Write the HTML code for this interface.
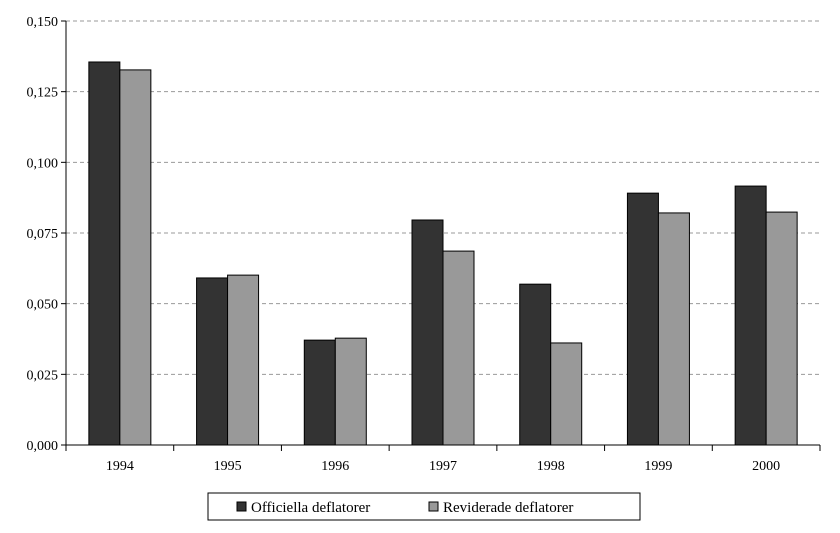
<!DOCTYPE html>
<html><head><meta charset="utf-8">
<style>
body{margin:0;background:#fff;}
svg{display:block;font-family:"Liberation Serif",serif;}
</style></head>
<body>
<svg id="chart" width="840" height="533" xmlns="http://www.w3.org/2000/svg"></svg>
<script>
const categories=["1994","1995","1996","1997","1998","1999","2000"];
const officiella=[0.1355,0.0591,0.0371,0.0796,0.0569,0.0891,0.0916];
const reviderade=[0.1327,0.0601,0.0378,0.0686,0.0361,0.0821,0.0824];
const yTicks=[0,0.025,0.05,0.075,0.1,0.125,0.15];
const yTickLabels=["0,000","0,025","0,050","0,075","0,100","0,125","0,150"];
const seriesNames=["Officiella deflatorer","Reviderade deflatorer"];

const NS="http://www.w3.org/2000/svg";
const svg=document.getElementById('chart');
const L=66,R=820,T=21,B=445,yMax=0.15;
const y=v=>B-(v/yMax)*(B-T);
const bandW=(R-L)/categories.length;
const xBand=i=>L+i*bandW;
function mk(tag,attrs,parent){const e=document.createElementNS(NS,tag);for(const k in attrs)e.setAttribute(k,attrs[k]);(parent||svg).appendChild(e);return e;}

yTicks.forEach((t,i)=>{
  if(t>0){const g=mk('line',{x1:L,x2:R,y1:y(t),y2:y(t),stroke:'#999','stroke-dasharray':'4,3','stroke-width':1});
  
  }
  const tk=mk('line',{x1:L-5,x2:L,y1:y(t),y2:y(t),stroke:'#000'});
  
  
  const lb=mk('text',{x:L-8,y:y(t)+5,'text-anchor':'end','font-size':14,fill:'#000'});
  lb.textContent=yTickLabels[i];
  
  
});
const ax=mk('line',{x1:L,x2:L,y1:T,y2:B,stroke:'#000'});


const bw=31;
categories.forEach((c,i)=>{
  const cx=xBand(i)+bandW/2;
  const b1=mk('rect',{x:cx-bw,y:y(officiella[i]),width:bw,height:B-y(officiella[i]),fill:'#333333',stroke:'#000','stroke-width':1});
  
  
  const b2=mk('rect',{x:cx,y:y(reviderade[i]),width:bw,height:B-y(reviderade[i]),fill:'#999999',stroke:'#000','stroke-width':1});
  
  
  const tk=mk('line',{x1:xBand(i+1),x2:xBand(i+1),y1:B,y2:B+6,stroke:'#000'});
  
  
  const lb=mk('text',{x:cx,y:B+25,'text-anchor':'middle','font-size':14,fill:'#000'});
  lb.textContent=c;
  
  
});
const xt0=mk('line',{x1:L,x2:L,y1:B,y2:B+6,stroke:'#000'});


const xa=mk('line',{x1:L,x2:R,y1:B,y2:B,stroke:'#000'});



const lg=mk('g',{});


mk('rect',{x:208,y:493,width:432,height:27,fill:'#fff',stroke:'#000'},lg);
const lx=[237,429],fills=['#333333','#999999'];
seriesNames.forEach((n,i)=>{
  const e=mk('g',{},lg);
  
  
  mk('rect',{x:lx[i],y:502,width:9,height:9,fill:fills[i],stroke:'#000'},e);
  const t=mk('text',{x:lx[i]+14,y:512,'font-size':15,fill:'#000'},e);
  t.textContent=n;
});
</script>
</body></html>
